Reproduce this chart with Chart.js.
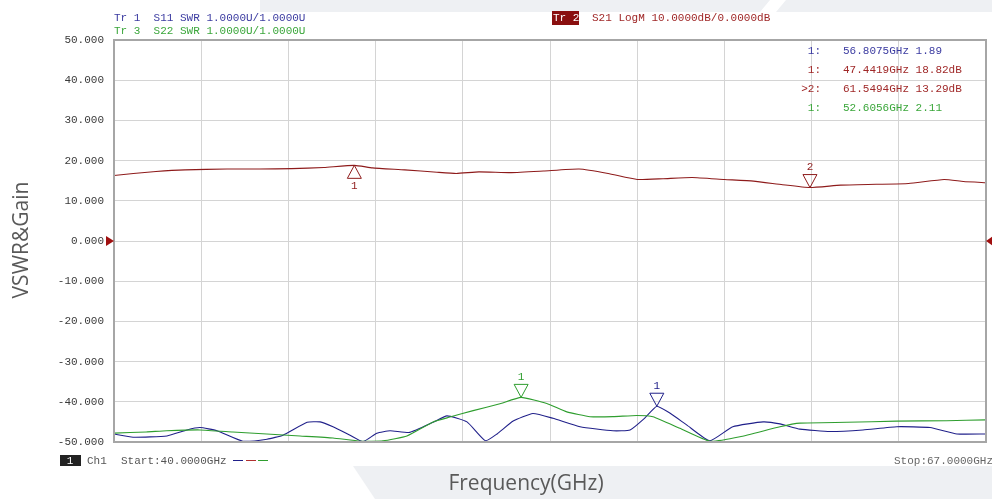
<!DOCTYPE html>
<html>
<head>
<meta charset="utf-8">
<script src="https://cdn.jsdelivr.net/npm/chart.js@4.4.0/dist/chart.umd.min.js"></script>
<style>
    html, body { margin: 0; padding: 0; background: #fff; }
    #vna { display: block; }
</style>
</head>
<body>
<canvas id="vna" width="992" height="499"></canvas>
<script>
// Trace data
// S21 gain (dB), main axis
const s21Freq = [40.0, 40.6, 41.3, 42.2, 43.5, 44.5, 45.5, 46.5, 47.4419, 48.0, 49.0, 50.0, 50.6, 51.3, 52.3, 53.3, 54.4, 55.3, 56.2, 57.0, 57.9, 58.9, 59.8, 60.7, 61.5494, 62.5, 63.6, 64.6, 65.7, 66.3, 67.0];
const s21Gain = [16.3, 16.8, 17.3, 17.7, 17.9, 17.9, 18.0, 18.3, 18.82, 18.2, 17.7, 17.1, 16.8, 17.2, 17.0, 17.4, 17.9, 16.8, 15.3, 15.5, 15.8, 15.3, 14.9, 14.0, 13.29, 13.9, 14.1, 14.3, 15.3, 14.8, 14.5];

// S11 SWR (1 U/div, ref 1 at bottom line)
const s11Freq = [40.0, 40.59, 41.64, 42.26, 42.66, 43.19, 43.99, 44.74, 45.23, 45.98, 46.38, 46.78, 47.31, 47.71, 48.14, 48.55, 49.16, 49.88, 50.31, 50.93, 51.5, 51.86, 52.36, 52.97, 53.59, 54.43, 55.45, 55.98, 56.44, 56.8075, 57.21, 57.74, 58.45, 59.16, 60.10, 60.62, 61.24, 62.17, 63.19, 64.24, 65.27, 66.10, 67.0];
const s11Swr  = [1.20, 1.12, 1.15, 1.30, 1.36, 1.28, 1.02, 1.07, 1.17, 1.49, 1.50, 1.38, 1.17, 1.01, 1.22, 1.28, 1.24, 1.49, 1.65, 1.50, 1.03, 1.20, 1.52, 1.71, 1.59, 1.38, 1.28, 1.30, 1.60, 1.89, 1.72, 1.42, 1.03, 1.38, 1.50, 1.45, 1.32, 1.26, 1.30, 1.38, 1.36, 1.20, 1.20];

// S22 SWR
const s22Freq = [40.0, 41.0, 41.63, 42.66, 43.68, 44.73, 45.76, 46.78, 47.62, 48.33, 49.07, 49.88, 50.40, 51.12, 51.95, 52.6056, 53.40, 54.02, 54.74, 55.45, 56.18, 56.69, 57.52, 58.45, 59.38, 60.62, 61.24, 62.69, 64.23, 65.78, 67.0];
const s22Swr  = [1.22, 1.25, 1.28, 1.30, 1.25, 1.20, 1.15, 1.10, 1.02, 1.03, 1.15, 1.50, 1.62, 1.78, 1.95, 2.11, 1.96, 1.75, 1.63, 1.63, 1.66, 1.63, 1.34, 1.02, 1.13, 1.38, 1.47, 1.49, 1.52, 1.53, 1.55];

// Markers
const markerTrace = ['s11', 's21', 's21', 's22'];
const markerId    = ['1', '1', '2', '1'];
const markerFreq  = [56.8075, 47.4419, 61.5494, 52.6056];
const markerValue = [1.89, 18.82, 13.29, 2.11];

const C_BLUE = '#20208a';
const C_RED = '#8e1b1b';
const C_GREEN = '#2f9e2f';
const MONO = '"Liberation Mono", "DejaVu Sans Mono", monospace';

function pts(xs, ys) {
    return xs.map((f, i) => ({ x: f, y: ys[i] }));
}

const screenDeco = {
    id: 'screenDeco',
    beforeDraw(chart) {
        const c = chart.ctx;
        c.save();
        c.fillStyle = '#fff';
        c.fillRect(0, 0, chart.width, chart.height);
        // faint slide background shapes
        c.fillStyle = '#eef0f3';
        c.beginPath();
        c.moveTo(260, 0); c.lineTo(992, 0); c.lineTo(992, 12); c.lineTo(260, 12);
        c.closePath(); c.fill();
        c.fillStyle = '#fff';
        c.beginPath();
        c.moveTo(770, 0); c.lineTo(786, 0); c.lineTo(776, 12); c.lineTo(760, 12);
        c.closePath(); c.fill();
        c.fillStyle = '#eef0f3';
        c.beginPath();
        c.moveTo(353, 466); c.lineTo(992, 466); c.lineTo(992, 499); c.lineTo(375, 499);
        c.closePath(); c.fill();
        c.restore();
    },
    afterDraw(chart) {
        const c = chart.ctx;
        const a = chart.chartArea;
        const xs = chart.scales.x, ys = chart.scales.y, ss = chart.scales.ySwr;
        c.save();

        // plot frame
        c.strokeStyle = '#a6a6a6';
        c.lineWidth = 2;
        c.strokeRect(a.left, a.top, a.right - a.left, a.bottom - a.top);

        // reference position arrows (0 dB)
        const y0 = ys.getPixelForValue(0);
        c.fillStyle = '#a01010';
        c.beginPath();
        c.moveTo(a.left - 8, y0 - 5); c.lineTo(a.left, y0); c.lineTo(a.left - 8, y0 + 5);
        c.closePath(); c.fill();
        c.beginPath();
        c.moveTo(a.right + 7, y0 - 5); c.lineTo(a.right, y0); c.lineTo(a.right + 7, y0 + 5);
        c.closePath(); c.fill();

        // trace header
        c.font = '11px ' + MONO;
        c.textBaseline = 'middle';
        c.textAlign = 'left';
        c.fillStyle = '#3a3aa0';
        c.fillText('Tr 1  S11 SWR 1.0000U/1.0000U', 114, 18);
        c.fillStyle = '#3aa63a';
        c.fillText('Tr 3  S22 SWR 1.0000U/1.0000U', 114, 31);
        c.fillStyle = '#8a0f0f';
        c.fillRect(552, 11, 27, 14);
        c.fillStyle = '#fff';
        c.fillText('Tr 2', 553, 18);
        c.fillStyle = '#a02828';
        c.fillText('S21 LogM 10.0000dB/0.0000dB', 592, 18);

        // marker readout
        const rows = [
            { lab: '1:', txt: '56.8075GHz 1.89', col: '#3a3aa0', y: 51 },
            { lab: '1:', txt: '47.4419GHz 18.82dB', col: '#a02828', y: 70 },
            { lab: '>2:', txt: '61.5494GHz 13.29dB', col: '#a02828', y: 89 },
            { lab: '1:', txt: '52.6056GHz 2.11', col: '#3aa63a', y: 108 }
        ];
        rows.forEach(r => {
            c.fillStyle = r.col;
            c.textAlign = 'right';
            c.fillText(r.lab, 821, r.y);
            c.textAlign = 'left';
            c.fillText(r.txt, 843, r.y);
        });

        // marker triangles
        markerFreq.forEach((f, i) => {
            const tr = markerTrace[i];
            const px = xs.getPixelForValue(f);
            const py = tr === 's21' ? ys.getPixelForValue(markerValue[i]) : ss.getPixelForValue(markerValue[i]);
            const col = tr === 's21' ? C_RED : (tr === 's11' ? C_BLUE : C_GREEN);
            const up = tr === 's21' && markerId[i] === '1';
            c.strokeStyle = col;
            c.fillStyle = col;
            c.lineWidth = 1;
            c.beginPath();
            if (up) {
                c.moveTo(px, py); c.lineTo(px - 7, py + 13); c.lineTo(px + 7, py + 13);
            } else {
                c.moveTo(px, py); c.lineTo(px - 7, py - 13); c.lineTo(px + 7, py - 13);
            }
            c.closePath();
            c.stroke();
            c.textAlign = 'center';
            c.font = '11px ' + MONO;
            c.fillText(markerId[i], px, up ? py + 21 : py - 20);
        });

        // channel footer
        c.fillStyle = '#222';
        c.fillRect(60, 455, 21, 11);
        c.fillStyle = '#fff';
        c.textAlign = 'center';
        c.fillText('1', 70, 461);
        c.fillStyle = '#555';
        c.textAlign = 'left';
        c.fillText('Ch1', 87, 461);
        c.fillText('Start:40.0000GHz', 121, 461);
        c.lineWidth = 1;
        [[C_BLUE, 233], ['#b03030', 246], [C_GREEN, 258]].forEach(([col, x]) => {
            c.strokeStyle = col;
            c.beginPath();
            c.moveTo(x, 460.5); c.lineTo(x + 10, 460.5);
            c.stroke();
        });
        c.textAlign = 'right';
        c.fillStyle = '#666';
        c.fillText('Stop:67.0000GHz', 993, 461);

        // axis titles
        c.fillStyle = '#595959';
        c.font = '21px "Open Sans", "Noto Sans", sans-serif';
        c.textAlign = 'center';
        c.fillText('Frequency(GHz)', 526, 484);
        c.translate(22, 240);
        c.rotate(-Math.PI / 2);
        c.fillText('VSWR&Gain', 0, 0);
        c.restore();
    }
};

const vnaChart = new Chart(document.getElementById('vna').getContext('2d'), {
    type: 'line',
    data: {
        datasets: [
            { label: 'S22', data: pts(s22Freq, s22Swr), yAxisID: 'ySwr', borderColor: C_GREEN, borderWidth: 1.1, pointRadius: 0, tension: 0.15 },
            { label: 'S11', data: pts(s11Freq, s11Swr), yAxisID: 'ySwr', borderColor: C_BLUE, borderWidth: 1.1, pointRadius: 0, tension: 0.15 },
            { label: 'S21', data: pts(s21Freq, s21Gain), yAxisID: 'y', borderColor: C_RED, borderWidth: 1.1, pointRadius: 0, tension: 0.15 }
        ]
    },
    options: {
        responsive: false,
        animation: false,
        layout: { padding: { top: 40, right: 6, left: 0, bottom: 0 } },
        plugins: { legend: { display: false }, tooltip: { enabled: false } },
        scales: {
            x: {
                type: 'linear', min: 40, max: 67,
                ticks: { display: false, stepSize: 2.7 },
                grid: { color: '#d4d4d4', drawTicks: false },
                border: { display: false },
                afterFit: s => { s.height = 57; }
            },
            y: {
                min: -50, max: 50,
                ticks: {
                    stepSize: 10, padding: 10, color: '#3a3a3a',
                    font: { family: MONO, size: 11 },
                    callback: v => v.toFixed(3)
                },
                grid: { color: '#d4d4d4', drawTicks: false },
                border: { display: false },
                afterFit: s => { s.width = 114; }
            },
            ySwr: { type: 'linear', display: false, min: 1, max: 11 }
        }
    },
    plugins: [screenDeco]
});
</script>
</body>
</html>
